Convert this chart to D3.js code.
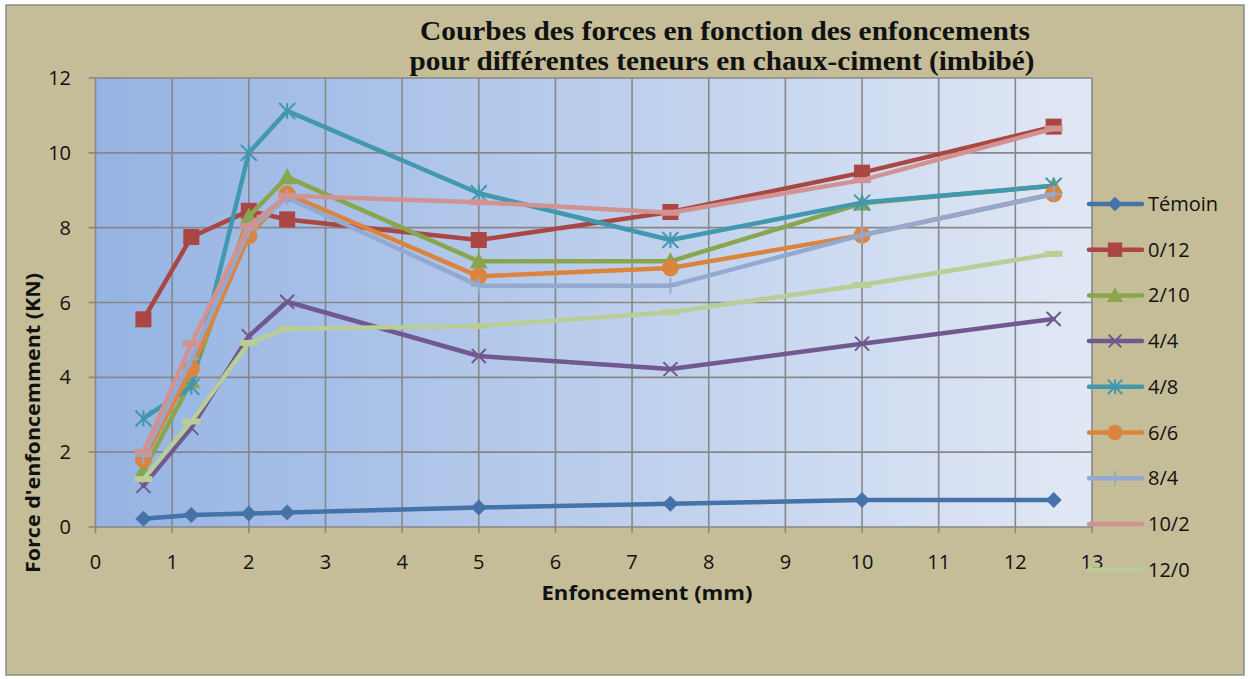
<!DOCTYPE html>
<html><head><meta charset="utf-8">
<script src="https://cdn.jsdelivr.net/npm/d3@7"></script>
<style>body{margin:0;background:#fff}svg{display:block}</style>
</head><body><svg id="c" width="1250" height="679"></svg>
<script>
const xValues = [0.625, 1.25, 2, 2.5, 5, 7.5, 10, 12.5];
const seriesNames = ["Témoin","0/12","2/10","4/4","4/8","6/6","8/4","10/2","12/0"];
const temoin = [0.22, 0.32, 0.36, 0.39, 0.52, 0.62, 0.72, 0.72];
const s0_12 = [5.55, 7.75, 8.45, 8.22, 7.67, 8.42, 9.47, 10.7];
const s2_10 = [1.5, 3.9, 8.3, 9.35, 7.1, 7.1, 8.65, 9.12];
const s4_4 = [1.1, 2.65, 5.1, 6.02, 4.57, 4.22, 4.9, 5.56];
const s4_8 = [2.9, 3.75, 10.0, 11.12, 8.92, 7.67, 8.67, 9.12];
const s6_6 = [1.8, 4.22, 7.78, 8.9, 6.7, 6.92, 7.8, 8.9];
const s8_4 = [1.9, 4.5, 7.95, 8.8, 6.45, 6.45, 7.8, 8.9];
const s10_2 = [2.0, 4.9, 8.05, 8.85, 8.68, 8.4, 9.27, 10.65];
const s12_0 = [1.28, 2.82, 4.92, 5.3, 5.37, 5.74, 6.47, 7.3];
const seriesValues = [temoin, s0_12, s2_10, s4_4, s4_8, s6_6, s8_4, s10_2, s12_0];
const colors = ["#4572a7","#aa4643","#89a54e","#71588f","#4198af","#db843d","#93a9cf","#d19392","#b9cd96"];
const markers = ["diamond","square","triangle","x","asterisk","circle","plus","dash","dash"];
const legendMarkers = ["diamond","square","triangle","x","asterisk","circle","plus","none","none"];
const xTicks = d3.range(0, 14);
const yTicks = d3.range(0, 13, 2);

const svg = d3.select("#c");
const L = 95.5, R = 1092, T = 78, B = 527;
const x = d3.scaleLinear().domain([0, 13]).range([L, R]);
const y = d3.scaleLinear().domain([0, 12]).range([B, T]);

const defs = svg.append("defs");
const g = defs.append("linearGradient").attr("id","bg").attr("x1","0").attr("x2","1").attr("y1","0").attr("y2","0");
g.append("stop").attr("offset","0").attr("stop-color","#95b3e3");
g.append("stop").attr("offset","1").attr("stop-color","#e1e8f5");

svg.append("rect").attr("x",6).attr("y",5).attr("width",1238).attr("height",670)
  .attr("fill","#c4bd97").attr("stroke","#8c8c8c").attr("stroke-width",1.5);

svg.append("rect").attr("x",L).attr("y",T).attr("width",R-L).attr("height",B-T).attr("fill","url(#bg)");

// grid
svg.append("g").selectAll("line").data(xTicks).join("line")
  .attr("x1",d=>x(d)).attr("x2",d=>x(d)).attr("y1",T).attr("y2",B+6)
  .attr("stroke","#878787").attr("stroke-width",1.6);
svg.append("g").selectAll("line").data(yTicks).join("line")
  .attr("x1",L-7).attr("x2",R).attr("y1",d=>y(d)).attr("y2",d=>y(d))
  .attr("stroke","#878787").attr("stroke-width",1.6);

const font = "'Open Sans', 'Liberation Sans', sans-serif";
// tick labels
svg.append("g").selectAll("text").data(yTicks).join("text")
  .attr("x",71).attr("y",d=>y(d)+7).attr("text-anchor","end")
  .attr("font-family",font).attr("font-size",20).attr("fill","#111").text(d=>d);
svg.append("g").selectAll("text").data(xTicks).join("text")
  .attr("x",d=>x(d)).attr("y",569).attr("text-anchor","middle")
  .attr("font-family",font).attr("font-size",20).attr("fill","#111").text(d=>d);

// axis titles
svg.append("text").attr("x",647).attr("y",600).attr("text-anchor","middle")
  .attr("font-family",font).attr("font-weight","bold").attr("font-size",20)
  .attr("textLength",211).attr("lengthAdjust","spacingAndGlyphs").attr("fill","#111")
  .text("Enfoncement (mm)");
svg.append("text").attr("transform","translate(40,423) rotate(-90)").attr("text-anchor","middle")
  .attr("font-family",font).attr("font-weight","bold").attr("font-size",20)
  .attr("textLength",300).attr("lengthAdjust","spacingAndGlyphs").attr("fill","#111")
  .text("Force d'enfoncemment (KN)");

// title
const tf = "'Liberation Serif', 'DejaVu Serif', serif";
svg.append("text").attr("x",725).attr("y",40).attr("text-anchor","middle")
  .attr("font-family",tf).attr("font-weight","bold").attr("font-size",28)
  .attr("textLength",610).attr("lengthAdjust","spacingAndGlyphs").attr("fill","#111")
  .text("Courbes des forces en fonction des enfoncements");
svg.append("text").attr("x",722).attr("y",70).attr("text-anchor","middle")
  .attr("font-family",tf).attr("font-weight","bold").attr("font-size",28)
  .attr("textLength",625).attr("lengthAdjust","spacingAndGlyphs").attr("fill","#111")
  .text("pour différentes teneurs en chaux-ciment (imbibé)");

function drawMarker(sel, type, color, cx, cy, scale) {
  const s = scale || 1;
  if (type === "diamond") {
    const r = 8*s;
    sel.append("path").attr("d",`M${cx},${cy-r}L${cx+r},${cy}L${cx},${cy+r}L${cx-r},${cy}Z`).attr("fill",color);
  } else if (type === "square") {
    const r = 8*s;
    sel.append("rect").attr("x",cx-r).attr("y",cy-r).attr("width",2*r).attr("height",2*r).attr("fill",color);
  } else if (type === "triangle") {
    const r = 9*s;
    sel.append("path").attr("d",`M${cx},${cy-r}L${cx+r},${cy+r*0.8}L${cx-r},${cy+r*0.8}Z`).attr("fill",color);
  } else if (type === "x") {
    const r = 7*s;
    sel.append("path").attr("d",`M${cx-r},${cy-r}L${cx+r},${cy+r}M${cx-r},${cy+r}L${cx+r},${cy-r}`)
      .attr("stroke",color).attr("stroke-width",2).attr("fill","none");
  } else if (type === "asterisk") {
    const r = 8*s;
    sel.append("path").attr("d",`M${cx-r},${cy-r}L${cx+r},${cy+r}M${cx-r},${cy+r}L${cx+r},${cy-r}M${cx},${cy-r}L${cx},${cy+r}`)
      .attr("stroke",color).attr("stroke-width",2).attr("fill","none");
  } else if (type === "circle") {
    sel.append("circle").attr("cx",cx).attr("cy",cy).attr("r",8.5*s).attr("fill",color);
  } else if (type === "plus") {
    const r = 8*s;
    sel.append("path").attr("d",`M${cx-r},${cy}L${cx+r},${cy}M${cx},${cy-r}L${cx},${cy+r}`)
      .attr("stroke",color).attr("stroke-width",2).attr("fill","none");
  } else if (type === "dash") {
    sel.append("rect").attr("x",cx-9).attr("y",cy-3).attr("width",18).attr("height",6).attr("fill",color);
  }
}

const line = d3.line().x(d=>x(d[0])).y(d=>y(d[1]));
const plot = svg.append("g");
seriesValues.forEach((vals, i) => {
  const pts = xValues.map((xv, j) => [xv, vals[j]]);
  const gs = plot.append("g");
  gs.append("path").attr("d", line(pts)).attr("fill","none").attr("stroke",colors[i])
    .attr("stroke-width",4.5).attr("stroke-linejoin","round").attr("stroke-linecap","round");
  pts.forEach(p => drawMarker(gs, markers[i], colors[i], x(p[0]), y(p[1])));
});

// legend
const lg = svg.append("g");
seriesNames.forEach((name, i) => {
  const ly = 204 + i * 45.7;
  lg.append("line").attr("x1",1089).attr("x2",1142).attr("y1",ly).attr("y2",ly)
    .attr("stroke",colors[i]).attr("stroke-width",4.5).attr("stroke-linecap","round");
  drawMarker(lg, legendMarkers[i], colors[i], 1115, ly, 0.9);
  lg.append("text").attr("x",1148).attr("y",ly+7).attr("font-family",font).attr("font-size",20)
    .attr("fill","#111").text(name);
});
</script></body></html>
